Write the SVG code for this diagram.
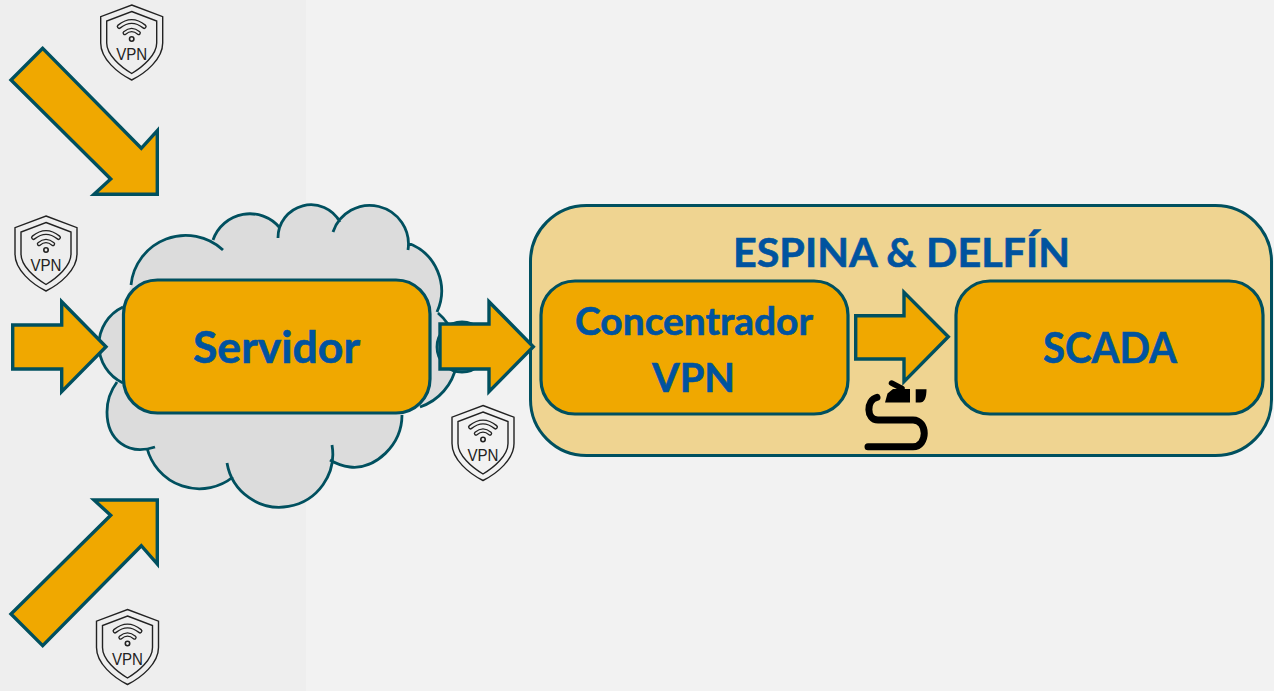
<svg xmlns="http://www.w3.org/2000/svg" width="1274" height="691" viewBox="0 0 1274 691">
<style>
.box{fill:#f0a800;stroke:#00505f;stroke-width:3.2}
.arrow{fill:#f0a800;stroke:#00505f;stroke-width:3.4;stroke-linejoin:miter}
.lbl{font-family:Lato,"Open Sans",sans-serif;font-weight:700;fill:#00539f;stroke:#00539f;stroke-width:.6;text-anchor:start}
.vpn{font-family:"Liberation Sans",sans-serif;font-size:16px;fill:#222;text-anchor:middle}
.sh{fill:none;stroke:#222;stroke-width:1.4;stroke-linejoin:miter}
</style>
<defs>
<g id="shield">
<path class="sh" d="M0,0L31,11.7V38C31,54 14,68 0,75C-14,68 -31,54 -31,38V11.7Z"/>
<path class="sh" d="M0,6.5L25,16V38C25,50 11,62 0,68.5C-11,62 -25,50 -25,38V16Z"/>
<path d="M-12.5,21.5Q0,11.5 12.5,21.5" fill="none" stroke="#222" stroke-width="5" stroke-linecap="round"/>
<path d="M-12.5,21.5Q0,11.5 12.5,21.5" fill="none" stroke="#efefef" stroke-width="2.2" stroke-linecap="round"/>
<path d="M-7,28Q0,22 7,28" fill="none" stroke="#222" stroke-width="4.4" stroke-linecap="round"/>
<path d="M-7,28Q0,22 7,28" fill="none" stroke="#efefef" stroke-width="1.8" stroke-linecap="round"/>
<circle cx="0" cy="34" r="2.2" fill="none" stroke="#222" stroke-width="1.6"/>
</g>
</defs>
<rect id="background" width="1274" height="691" fill="#f2f2f2"/>
<rect id="left-panel" width="306" height="691" fill="#eeeeee"/>

<g id="node-cloud">
<path d="M131,285A55,55 0 0 1 223,250L213,240A39,39 0 0 1 280,228L278,238A33,33 0 0 1 340,222L333,232A38.7,38.7 0 0 1 408,250L408,243A51,51 0 0 1 437,312A55,55 0 0 1 420,407L402,415C402,445 375,470 350,467C342,466 335,463 330,460L332,445A53,53 0 0 1 227,463L233,477A54,54 0 0 1 147,448L155,447C128,456 107,440 107,412C107,400 111,390 117,382L123,383A42,42 0 0 1 123,307Z" fill="#dcdcdc"/>
<circle cx="462" cy="347" r="25" fill="#e4e4e4" stroke="#00505f" stroke-width="2.8"/>
<path d="M131,285A55,55 0 0 1 223,250M213,240A39,39 0 0 1 280,228M278,238A33,33 0 0 1 340,222M333,232A38.7,38.7 0 0 1 408,250M408,243A51,51 0 0 1 437,312M438,313A55,55 0 0 1 420,407M402,415C402,445 375,470 350,467C342,466 335,463 330,460M332,445A53,53 0 0 1 227,463M233,477A54,54 0 0 1 147,448M155,447C128,456 107,440 107,412C107,400 111,390 117,382M123,383A42,42 0 0 1 123,307" fill="none" stroke="#00505f" stroke-width="2.8"/>
</g>

<g id="node-servidor">
<rect class="box" x="123.5" y="280" width="306.5" height="133" rx="34"/>
<text class="lbl" x="193" y="363" font-size="43" textLength="167" lengthAdjust="spacingAndGlyphs">Servidor</text>
</g>

<g id="node-espina">
<rect x="530.5" y="205.5" width="741" height="250" rx="56" fill="#efd491" stroke="#00505f" stroke-width="3"/>
<text class="lbl" x="733" y="267" font-size="41" textLength="337" lengthAdjust="spacingAndGlyphs">ESPINA &amp; DELFÍN</text>
</g>

<g id="node-concentrador">
<rect class="box" x="541" y="281" width="307" height="133" rx="34"/>
<text class="lbl" x="575" y="335" font-size="39" textLength="238" lengthAdjust="spacingAndGlyphs">Concentrador</text>
<text class="lbl" x="652" y="392" font-size="41" textLength="83" lengthAdjust="spacingAndGlyphs">VPN</text>
</g>

<g id="node-scada">
<rect class="box" x="956" y="281" width="307" height="133" rx="34"/>
<text class="lbl" x="1043" y="363" font-size="42" textLength="134" lengthAdjust="spacingAndGlyphs">SCADA</text>
</g>

<g id="connectors">
<polygon class="arrow" points="42.7,48.3 11,80 110.7,179 94,194.3 157.3,194.3 157.3,130.7 141.3,148.3"/>
<polygon class="arrow" points="94,500 157.3,500 157.3,564 141.3,545.7 42.7,645.7 11,614 110.7,515.3"/>
<polygon class="arrow" points="12.7,325 61.7,325 61.7,301.7 106,346.7 61.7,391.7 61.7,369 12.7,369"/>
<polygon class="arrow" points="440,324 489,324 489,301.7 533.3,346.7 489,391.7 489,369 440,369"/>
<polygon class="arrow" points="855.7,315.7 904,315.7 904,292.3 948.3,336.7 904,381.7 904,359 855.7,359"/>
</g>

<g id="node-cable">
<path d="M877,397.3C866,400 866,420 878,420L913,420C928,420 928,446.7 913,446.7L868,446.7" fill="none" stroke="#000" stroke-width="7" stroke-linecap="round"/>
<path d="M885,402.5L887.5,393.5L893,389L910,389V402.5ZM915.7,389.3H926.5Q926.5,402.5 920,402.5H915.7Z" fill="#000"/>
<path d="M891.5,383L902,388.5" stroke="#000" stroke-width="5.5" stroke-linecap="round"/>
</g>

<g id="node-vpn-1"><use href="#shield" transform="translate(131.7,5)"/><text class="vpn" x="131.7" y="60" textLength="31" lengthAdjust="spacingAndGlyphs">VPN</text></g>
<g id="node-vpn-2"><use href="#shield" transform="translate(46,216)"/><text class="vpn" x="46" y="271" textLength="31" lengthAdjust="spacingAndGlyphs">VPN</text></g>
<g id="node-vpn-3"><use href="#shield" transform="translate(483,405.5)"/><text class="vpn" x="483" y="460.5" textLength="31" lengthAdjust="spacingAndGlyphs">VPN</text></g>
<g id="node-vpn-4"><use href="#shield" transform="translate(127.5,609.5)"/><text class="vpn" x="127.5" y="664.5" textLength="31" lengthAdjust="spacingAndGlyphs">VPN</text></g>
</svg>
